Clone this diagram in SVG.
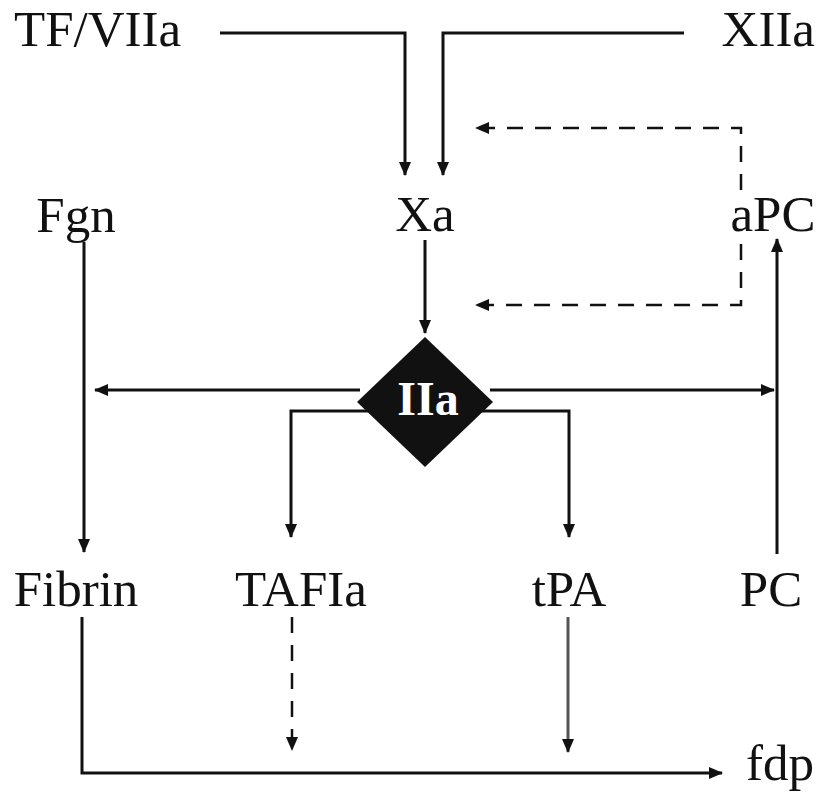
<svg xmlns="http://www.w3.org/2000/svg" width="816" height="793" viewBox="0 0 816 793">
<style>
text{font-family:"Liberation Serif","Times New Roman",serif;font-size:51px;fill:#111}
.c{text-anchor:middle}
.ln{fill:none;stroke:#111;stroke-width:3}
.ds{fill:none;stroke:#111;stroke-width:2.5;stroke-dasharray:16 12}
.gr{fill:none;stroke:#555;stroke-width:3}
</style>
<defs>
<marker id="ah" markerUnits="userSpaceOnUse" markerWidth="14" markerHeight="12" refX="13" refY="6" orient="auto">
<path d="M0,0 L14,6 L0,12 Z" fill="#111"/>
</marker>
</defs>
<rect width="816" height="793" fill="#fff"/>
<g id="connectors">
<path class="ln" d="M220,33 H405 V175" marker-end="url(#ah)"/>
<path class="ln" d="M684,33 H443 V175" marker-end="url(#ah)"/>
<path class="ds" d="M741,190 V128 H476" marker-end="url(#ah)"/>
<path class="ds" d="M741,244 V305 H476" marker-end="url(#ah)"/>
<path class="ln" d="M425,240 V333" marker-end="url(#ah)"/>
<path class="ln" d="M360,390 H95" marker-end="url(#ah)"/>
<path class="ln" d="M490,390 H774" marker-end="url(#ah)"/>
<path class="ln" d="M370,411 H291 V537" marker-end="url(#ah)"/>
<path class="ln" d="M480,411 H569 V537" marker-end="url(#ah)"/>
<path class="ln" d="M84,242 V552" marker-end="url(#ah)"/>
<path class="ln" d="M777,554 V239" marker-end="url(#ah)"/>
<path class="ln" d="M82,617 V773 H722" marker-end="url(#ah)"/>
<path class="ds" d="M292,617 V750" marker-end="url(#ah)"/>
<path class="gr" d="M568,617 V752" marker-end="url(#ah)"/>
</g>
<g id="TFVIIa"><text x="14" y="46">TF/VIIa</text></g>
<g id="XIIa"><text x="815" y="46" text-anchor="end">XIIa</text></g>
<g id="Fgn"><text class="c" x="76" y="232">Fgn</text></g>
<g id="Xa"><text class="c" x="425" y="231">Xa</text></g>
<g id="aPC"><text class="c" x="773" y="231">aPC</text></g>
<g id="IIa">
<polygon points="425,337 493,402 425,467 357,402" fill="#111"/>
<text class="c" x="428" y="415" style="fill:#fff;font-weight:bold;font-size:48px">IIa</text>
</g>
<g id="Fibrin"><text class="c" x="76" y="606">Fibrin</text></g>
<g id="TAFIa"><text class="c" x="301" y="606">TAFIa</text></g>
<g id="tPA"><text class="c" x="569" y="606">tPA</text></g>
<g id="PC"><text class="c" x="771" y="606">PC</text></g>
<g id="fdp"><text x="746" y="780">fdp</text></g>
</svg>
